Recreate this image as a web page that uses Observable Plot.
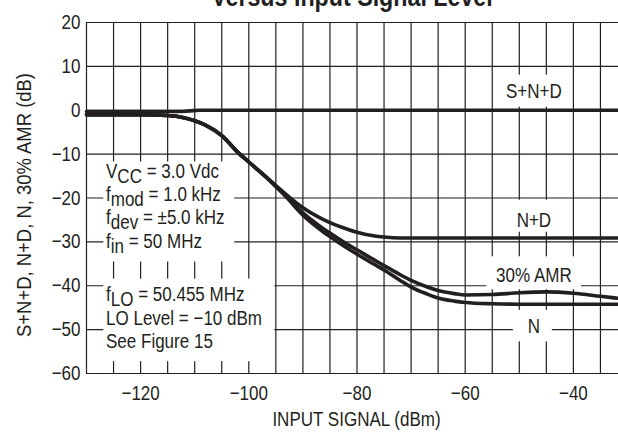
<!DOCTYPE html>
<html>
<head>
<meta charset="utf-8">
<script src="https://cdn.jsdelivr.net/npm/d3@7"></script>
<script src="https://cdn.jsdelivr.net/npm/@observablehq/plot@0.6"></script>
<style>
  html, body { margin: 0; padding: 0; background: #fff; }
  #chart { width: 618px; height: 437px; overflow: hidden; }
</style>
</head>
<body>
<div id="chart"></div>
<script>
// Input signal level (dBm) for the three descending curves
const inputDbm = [-130, -120, -115, -112, -110, -108, -105, -102, -100, -97, -95, -93, -90, -87, -85, -82, -80, -77, -75, -72, -70, -67, -65, -62, -60, -55, -50, -45, -40, -35, -30];
const ndDb  = [-1.0, -1.0, -1.2, -1.7, -2.4, -3.4, -5.8, -9.6, -11.8, -15.0, -17.2, -19.3, -22.2, -24.4, -25.6, -27.0, -27.8, -28.6, -28.9, -29.1, -29.1, -29.1, -29.1, -29.1, -29.1, -29.1, -29.1, -29.1, -29.1, -29.1, -29.1];
const amrDb = [-1.0, -1.0, -1.2, -1.7, -2.4, -3.4, -5.8, -9.6, -11.8, -15.0, -17.3, -19.6, -23.4, -26.3, -28.0, -30.4, -31.8, -34.0, -35.4, -37.5, -38.8, -40.3, -41.1, -41.8, -42.1, -42.0, -41.6, -41.4, -41.7, -42.4, -43.1];
const nDb   = [-1.0, -1.0, -1.2, -1.7, -2.4, -3.4, -5.8, -9.6, -11.8, -15.0, -17.4, -19.9, -23.9, -27.0, -28.8, -31.3, -32.8, -35.0, -36.4, -38.8, -40.3, -41.9, -42.8, -43.5, -43.8, -44.1, -44.2, -44.2, -44.2, -44.2, -44.2];

// S+N+D stays near 0 dB across the range
const sndDbm = [-130, -120, -113, -111, -109, -100, -80, -60, -40, -30];
const sndDb  = [-0.3, -0.3, -0.3, -0.15, 0.0, 0.0, 0.0, 0.0, 0.0, 0.0];

// Axes
const xTicks = [-120, -100, -80, -60, -40];
const yTicks = [-60, -50, -40, -30, -20, -10, 0, 10, 20];
const xGrid = [-130, -125, -120, -115, -110, -105, -100, -95, -90, -85, -80, -75, -70, -65, -60, -55, -50, -45, -40, -35];
const yGrid = [-60, -50, -40, -30, -20, -10, 0, 10, 20];

// Curve labels and the white patches behind them and behind the condition notes
const curveLabels = [
  {x: -47.3, y: 2.9, text: "S+N+D"},
  {x: -47.3, y: -26.6, text: "N+D"},
  {x: -47.3, y: -39.1, text: "30% AMR"},
  {x: -47.3, y: -50.8, text: "N"}
];
const patches = [
  {x1: -54.5, x2: -40.5, y1: 0.7, y2: 8.0},
  {x1: -51.7, x2: -42.5, y1: -27.8, y2: -20.5},
  {x1: -56.0, x2: -38.5, y1: -40.9, y2: -33.4},
  {x1: -51.1, x2: -43.9, y1: -52.8, y2: -45.6},
  {x1: -126.8, x2: -102.6, y1: -34.6, y2: -11.8},
  {x1: -126.8, x2: -95.2, y1: -57.3, y2: -38.5}
];

// Test conditions: [main, subscript, rest], anchored at x = -126.3 dBm
const notesX = -126.3;
const notes = [
  {y: -15.6, parts: ["V", "CC", " = 3.0 Vdc"]},
  {y: -20.9, parts: ["f", "mod", " = 1.0 kHz"]},
  {y: -26.0, parts: ["f", "dev", " = \u00B15.0 kHz"]},
  {y: -31.5, parts: ["f", "in", " = 50 MHz"]},
  {y: -43.7, parts: ["f", "LO", " = 50.455 MHz"]},
  {y: -49.0, parts: ["LO Level = \u221210 dBm", "", ""]},
  {y: -54.4, parts: ["See Figure 15", "", ""]}
];

const rows = (xs, ys) => xs.map((x, i) => ({x, y: ys[i]}));

const ink = "#231f20";
const font = "'Liberation Sans', Arial, Helvetica, sans-serif";
const narrow = 0.83; // horizontal squeeze for a condensed look

const plot = Plot.plot({
  width: 618,
  height: 437,
  marginLeft: 86,
  marginRight: 0,
  marginTop: 22,
  marginBottom: 64,
  style: {fontFamily: font, fontSize: "20.5px", color: ink, background: "#fff", overflow: "hidden"},
  x: {domain: [-130, -30], range: [86, 627]},
  y: {domain: [-60, 20], range: [373, 22]},
  marks: [
    Plot.ruleX(xGrid, {stroke: ink, strokeWidth: 1.2, strokeOpacity: 1}),
    Plot.ruleY(yGrid, {stroke: ink, strokeWidth: 1.2, strokeOpacity: 1}),
    Plot.rect(patches, {x1: "x1", x2: "x2", y1: "y1", y2: "y2", fill: "#fff"}),
    Plot.line(rows(sndDbm, sndDb), {x: "x", y: "y", stroke: ink, strokeWidth: 3.6, curve: "monotone-x"}),
    Plot.line(rows(inputDbm, ndDb), {x: "x", y: "y", stroke: ink, strokeWidth: 3.6, curve: "monotone-x"}),
    Plot.line(rows(inputDbm, amrDb), {x: "x", y: "y", stroke: ink, strokeWidth: 3.6, curve: "monotone-x"}),
    Plot.line(rows(inputDbm, nDb), {x: "x", y: "y", stroke: ink, strokeWidth: 3.6, curve: "monotone-x"}),
    Plot.text(curveLabels, {x: "x", y: "y", text: "text", textAnchor: "middle", lineAnchor: "bottom", fill: ink}),
    Plot.axisX(xTicks, {tickSize: 0, tickPadding: 12, label: null, fill: ink}),
    Plot.axisY(yTicks, {tickSize: 0, tickPadding: 6, label: null, fill: ink})
  ]
});

const svg = d3.select(plot);
const sx = plot.scale("x"), sy = plot.scale("y");
const g = svg.append("g").attr("fill", ink).attr("font-family", font).attr("font-size", "20.5px");

// Condition notes with subscripts
for (const n of notes) {
  const t = g.append("text").attr("text-anchor", "start")
    .attr("x", sx.apply(notesX)).attr("y", sy.apply(n.y));
  t.append("tspan").text(n.parts[0]);
  if (n.parts[1]) {
    t.append("tspan").attr("dy", 5).text(n.parts[1]);
    t.append("tspan").attr("dy", -5).text(n.parts[2]);
  }
}

// Title (top of the figure) and x axis title
g.append("text").attr("x", 352).attr("y", 6).attr("text-anchor", "middle")
  .attr("font-weight", "bold").attr("font-size", "28px").text("Versus Input Signal Level");
g.append("text").attr("x", sx.apply(-80)).attr("y", 426).attr("text-anchor", "middle")
  .text("INPUT SIGNAL (dBm)");

// Squeeze every text horizontally around its own anchor point (only x matters for the squeeze)
svg.selectAll("text").each(function() {
  const x = parseFloat(this.getAttribute("x")) || 0;
  const t = this.getAttribute("transform") || "";
  this.setAttribute("transform", `${t} translate(${x},0) scale(${narrow},1) translate(${-x},0)`.trim());
});

// Rotated y axis title, a little less condensed
g.append("text")
  .attr("transform", `translate(31,205) rotate(-90) scale(0.9,1)`)
  .attr("text-anchor", "middle")
  .text("S+N+D, N+D, N, 30% AMR (dB)");

document.getElementById("chart").appendChild(plot);
</script>
</body>
</html>
